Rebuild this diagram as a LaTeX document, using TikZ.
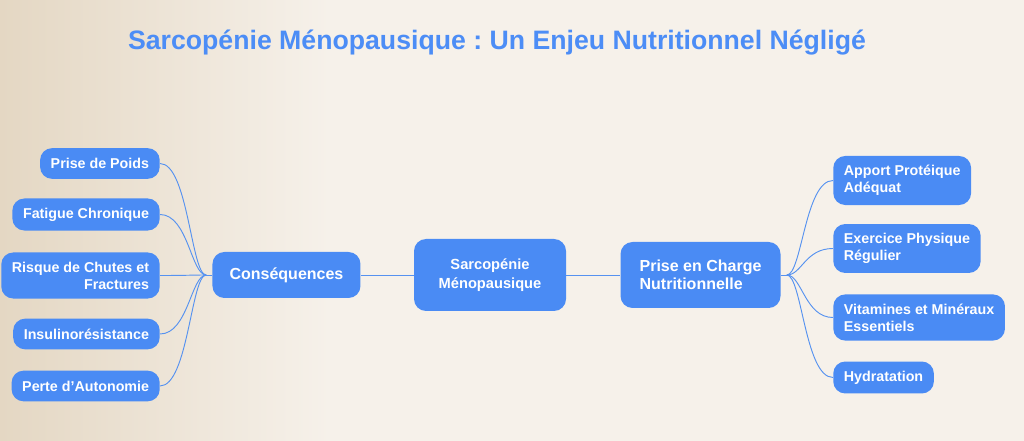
\documentclass[tikz,border=0pt]{standalone}
\usepackage{fontspec}
\setmainfont{Liberation Sans}
\usetikzlibrary{positioning,calc}
\definecolor{boxblue}{RGB}{74,139,244}
\definecolor{lineblue}{RGB}{86,146,240}
\definecolor{titleblue}{RGB}{76,141,246}
\definecolor{cream}{RGB}{246,241,234}
\definecolor{sand}{RGB}{228,215,195}
\frenchspacing

\begin{document}
\begin{tikzpicture}[x=0.75pt,y=-0.75pt]
\tikzstyle{main}=[rectangle, rounded corners=9pt, fill=boxblue, text=white, font=\bfseries\fontsize{10.7}{12.7}\selectfont, inner xsep=8pt, inner ysep=7pt, minimum height=23pt]
\tikzstyle{leafl}=[main, anchor=east, align=right]
\tikzstyle{leafr}=[main, anchor=west, align=left]
\tikzstyle{hub}=[main, font=\bfseries\fontsize{12}{13.5}\selectfont]
\tikzstyle{connect}=[draw=lineblue, line width=0.7pt]

  % background
  \useasboundingbox (0,0) rectangle (1024,441);
  \fill[cream] (0,0) rectangle (1024,441);
  \shade[left color=sand, right color=cream] (0,0) rectangle (330,441);

  \node[font=\bfseries\fontsize{20}{23}\selectfont, text=titleblue] (title) at (497,43)
    {Sarcopénie Ménopausique : Un Enjeu Nutritionnel Négligé};

  % centre
  \node[hub, font=\bfseries\fontsize{11}{14.5}\selectfont, minimum width=114pt, minimum height=54pt, align=center] (sarco) at (490,275) {Sarcopénie\\Ménopausique};
  \node[hub, minimum width=111pt, minimum height=34.5pt] (cons) [left=39.75pt of sarco] {Conséquences};
  \node[hub, minimum width=120pt, minimum height=49.5pt, align=left] (charge) [right=40.5pt of sarco] {Prise en Charge\\Nutritionnelle};

  \coordinate [left=4.5pt of cons] (hubL);
  \coordinate [right=4.5pt of charge] (hubR);

  % consequences
  \node[leafl] (poids)     at (160,163.5) {Prise de Poids};
  \node[leafl] (fatigue)   at (160,214.5) {Fatigue Chronique};
  \node[leafl] (chutes)    at (160,275.5) {Risque de Chutes et\\Fractures};
  \node[leafl] (insulin)   at (160,334)   {Insulinorésistance};
  \node[leafl] (autonomie) at (160,386)   {Perte d'Autonomie};

  % prise en charge
  \node[leafr] (apport)    at (833,180.5) {Apport Protéique\\Adéquat};
  \node[leafr] (exercice)  at (833,248.5) {Exercice Physique\\Régulier};
  \node[leafr] (vitamines) at (833,317.5) {Vitamines et Minéraux\\Essentiels};
  \node[leafr] (hydra)     at (833,377.5) {Hydratation};

  \path (cons) edge [connect] (sarco);
  \path (sarco) edge [connect] (charge);
  \path (hubL) edge [connect] (cons);
  \path (charge) edge [connect] (hubR);

  \foreach \n in {poids,fatigue,chutes,insulin,autonomie}
    \draw[connect] (hubL) .. controls +(-15,0) and +(28,0) .. (\n.east);
  \foreach \n in {apport,exercice,vitamines,hydra}
    \draw[connect] (hubR) .. controls +(15,0) and +(-28,0) .. (\n.west);

\end{tikzpicture}
\end{document}
